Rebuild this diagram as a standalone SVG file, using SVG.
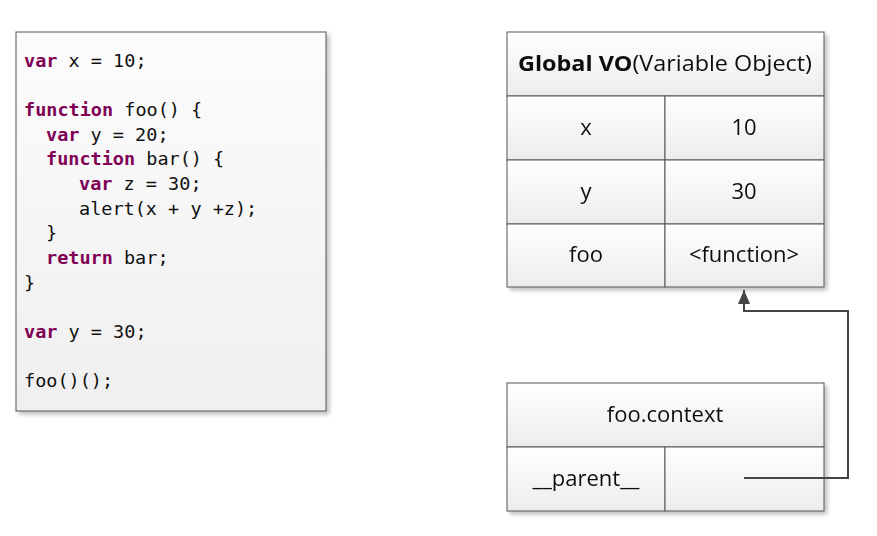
<svg xmlns="http://www.w3.org/2000/svg" width="877" height="536" viewBox="0 0 877 536">
<defs>
<linearGradient id="cell" x1="0" y1="0" x2="0" y2="1">
<stop offset="0" stop-color="#ffffff"/>
<stop offset="1" stop-color="#ececec"/>
</linearGradient>
<linearGradient id="code" x1="0" y1="0" x2="0" y2="1">
<stop offset="0" stop-color="#fcfcfc"/>
<stop offset="1" stop-color="#efefef"/>
</linearGradient>
<filter id="sh" x="-5%" y="-5%" width="112%" height="112%">
<feGaussianBlur in="SourceAlpha" stdDeviation="2"/>
<feOffset dx="3" dy="3"/>
<feComponentTransfer><feFuncA type="linear" slope="0.25"/></feComponentTransfer>
<feMerge><feMergeNode/><feMergeNode in="SourceGraphic"/></feMerge>
</filter>
<marker id="arr" viewBox="0 0 14 12" refX="14" refY="6" markerWidth="14" markerHeight="12" markerUnits="userSpaceOnUse" orient="auto">
<path d="M0,0 L14,6 L0,12 Z" fill="#444"/>
</marker>
</defs>
<style>
.code{font-family:"DejaVu Sans Mono","Liberation Mono",monospace;font-size:18.5px;fill:#111}
.kw{fill:#7f0055;font-weight:bold}
.c{fill:url(#cell);stroke:#555;stroke-width:1}
.t{font-family:"Open Sans","Noto Sans",sans-serif;font-size:22px;fill:#111;text-anchor:middle}
.b{font-weight:bold}
.line{fill:none;stroke:#444;stroke-width:2}
</style>
<rect width="877" height="536" fill="#ffffff"/>

<g id="code-box">
<rect x="16" y="32" width="310" height="379" fill="url(#code)" stroke="#555" stroke-width="1" filter="url(#sh)"/>
<text class="code" x="24" y="67"><tspan class="kw">var</tspan> x = 10;</text>
<text class="code" x="24" y="116"><tspan class="kw">function</tspan> foo() {</text>
<text class="code" x="46" y="141"><tspan class="kw">var</tspan> y = 20;</text>
<text class="code" x="46" y="165"><tspan class="kw">function</tspan> bar() {</text>
<text class="code" x="79" y="190"><tspan class="kw">var</tspan> z = 30;</text>
<text class="code" x="79" y="215">alert(x + y +z);</text>
<text class="code" x="46" y="239">}</text>
<text class="code" x="46" y="264"><tspan class="kw">return</tspan> bar;</text>
<text class="code" x="24" y="289">}</text>
<text class="code" x="24" y="338"><tspan class="kw">var</tspan> y = 30;</text>
<text class="code" x="24" y="387">foo()();</text>
</g>

<g id="global-vo" filter="url(#sh)">
<rect class="c" x="507" y="32" width="317" height="64"/>
<rect class="c" x="507" y="96" width="158" height="64"/>
<rect class="c" x="665" y="96" width="159" height="64"/>
<rect class="c" x="507" y="160" width="158" height="64"/>
<rect class="c" x="665" y="160" width="159" height="64"/>
<rect class="c" x="507" y="224" width="158" height="63"/>
<rect class="c" x="665" y="224" width="159" height="63"/>
<text class="t" x="665" y="71" textLength="294" lengthAdjust="spacingAndGlyphs"><tspan class="b">Global VO</tspan>(Variable Object)</text>
<text class="t" x="586" y="135">x</text>
<text class="t" x="744" y="135">10</text>
<text class="t" x="586" y="199">y</text>
<text class="t" x="744" y="199">30</text>
<text class="t" x="586" y="262">foo</text>
<text class="t" x="744" y="262">&lt;function&gt;</text>
</g>

<g id="foo-context" filter="url(#sh)">
<rect class="c" x="507" y="383" width="317" height="64"/>
<rect class="c" x="507" y="447" width="158" height="64"/>
<rect class="c" x="665" y="447" width="159" height="64"/>
<text class="t" x="665" y="422">foo.context</text>
<text class="t" x="586" y="486">__parent__</text>
</g>

<g id="connectors">
<path class="line" d="M744,478 H848 V311 H744 V290" marker-end="url(#arr)"/>
</g>
</svg>
